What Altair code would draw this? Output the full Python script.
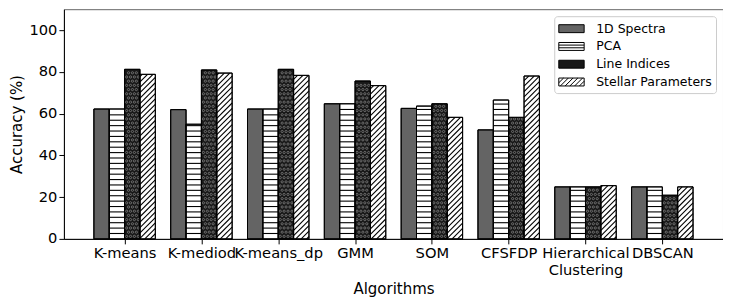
import json
import math
import altair as alt
import pandas as pd

# ---- data ----
algorithms = ["K-means", "K-mediod", "K-means_dp", "GMM", "SOM", "CFSFDP",
              "Hierarchical Clustering", "DBSCAN"]
series = ["1D Spectra", "PCA", "Line Indices", "Stellar Parameters"]
spectra = [62.2, 61.9, 62.2, 64.7, 62.5, 52.2, 24.9, 24.9]
pca = [62.2, 54.9, 62.2, 64.7, 63.6, 66.5, 24.9, 24.9]
line_indices = [81.2, 80.9, 81.2, 75.6, 64.7, 58.2, 24.9, 20.9]
stellar = [78.8, 79.4, 78.3, 73.4, 58.2, 78.0, 25.5, 24.9]
y_ticks = [0, 20, 40, 60, 80, 100]

values_by_series = [spectra, pca, line_indices, stellar]
fills = ["#646464", "#ffffff", "#181818", "#ffffff"]

W, H = 660, 230
XMIN, XMAX = -0.79, 7.79
YMAX = 110
BAR = 0.2
offsets = [-0.3, -0.1, 0.1, 0.3]
FONT = "DejaVu Sans"

rows = []
for j, s in enumerate(series):
    for i, a in enumerate(algorithms):
        c = i + offsets[j]
        rows.append(dict(series=s, alg=a, x0=c - BAR / 2, x1=c + BAR / 2,
                         value=values_by_series[j][i]))
bars = pd.DataFrame(rows)

# ---- hatch decoration derived from the bar values ----
sx = W / (XMAX - XMIN)
sy = H / YMAX
SP = 5.4
hatch = []
for i, v in enumerate(pca):
    x0 = i + offsets[1] - BAR / 2
    x1 = x0 + BAR
    k = 1
    while k * SP / sy < v - 0.5:
        y = k * SP / sy
        hatch.append(dict(x=x0, x2=x1, y=y, y2=y))
        k += 1
for i, v in enumerate(stellar):
    x0 = i + offsets[3] - BAR / 2
    x1 = x0 + BAR
    X0 = (x0 - XMIN) * sx
    X1 = (x1 - XMIN) * sx
    Ht = v * sy
    for m in range(math.floor((X0 - Ht) / SP) - 1, math.ceil(X1 / SP) + 2):
        k = m * SP
        a = max(X0, k)
        b = min(X1, k + Ht)
        if b - a > 0.3:
            hatch.append(dict(x=a / sx + XMIN, x2=b / sx + XMIN,
                              y=(a - k) / sy, y2=(b - k) / sy))
hatch_df = pd.DataFrame(hatch)

# dotted texture for the Line Indices bars
DX, DY = 3.9, 4.2
dots = []
for i, v in enumerate(line_indices):
    x0 = i + offsets[2] - BAR / 2
    X0 = (x0 - XMIN) * sx
    Ht = v * sy
    r = 0
    while (r + 0.6) * DY < Ht - 1.5:
        shift = 0 if r % 2 == 0 else DX / 2
        cx = 2.0 + shift
        while cx < BAR * sx - 1.5:
            dots.append(dict(x=(X0 + cx) / sx + XMIN, y=(r + 0.6) * DY / sy))
            cx += DX
        r += 1
dots_df = pd.DataFrame(dots)

# ---- legend symbol paths ----
def f(v):
    return f"{v:.3f}"

rect = "M-1,-0.5H2.2V0.5H-1Z"
pca_path = rect + " M-1,-0.17H2.2 M-1,0.17H2.2"
diag = ""
a = -2.0
while a < 2.2:
    xa, ya = a, 0.5
    xb, yb = a + 1, -0.5
    if xa < -1:
        ya = 0.5 - (-1 - xa)
        xa = -1
    if xb > 2.2:
        yb = -0.5 + (xb - 2.2)
        xb = 2.2
    if xb - xa > 0.05:
        diag += f" M{f(xa)},{f(ya)}L{f(xb)},{f(yb)}"
    a += 0.6
shapes = [rect, pca_path, rect, rect + diag]

x_scale = alt.Scale(domain=[XMIN, XMAX], nice=False, zero=False)
y_scale = alt.Scale(domain=[0, YMAX], nice=False)
fill_scale = alt.Scale(domain=series, range=fills)
shape_scale = alt.Scale(domain=series, range=shapes)
stroke_scale = alt.Scale(domain=series, range=["black"] * 4)

# tick labels (multi-line for the long name); small nudges as in the reference
NB = "\u00a0"
label_lines = [a.split(" ") for a in algorithms]
label_lines[2] = [NB * 3 + algorithms[2]]
label_lines[3] = [algorithms[3] + NB]
label_arr = json.dumps(label_lines, ensure_ascii=False).replace('"', "'")

base = alt.Chart(bars)

legend_layer = base.transform_filter("false").mark_point(
    filled=True, strokeWidth=1, opacity=1
).encode(
    x=alt.X("x0:Q", scale=x_scale,
            axis=alt.Axis(values=list(range(len(algorithms))),
                          labelExpr=f"{label_arr}[datum.value]",
                          title="Algorithms", grid=False,
                          labelOverlap=False, labelFlush=False)),
    y=alt.Y("value:Q", scale=y_scale,
            axis=alt.Axis(values=y_ticks, title="Accuracy (%)", grid=False)),
    fill=alt.Fill("series:N", scale=fill_scale, legend=alt.Legend(title=None)),
    shape=alt.Shape("series:N", scale=shape_scale, legend=alt.Legend(title=None)),
    stroke=alt.Stroke("series:N", scale=stroke_scale, legend=alt.Legend(title=None)),
)

bar_layer = base.mark_rect(stroke="black", strokeWidth=1).encode(
    x=alt.X("x0:Q", scale=x_scale),
    x2="x1:Q",
    y=alt.Y("value:Q", scale=y_scale),
    y2=alt.datum(0),
    fill=alt.Fill("series:N", scale=fill_scale),
)

hatch_layer = alt.Chart(hatch_df).mark_rule(color="black", strokeWidth=1.1).encode(
    x=alt.X("x:Q", scale=x_scale),
    x2="x2:Q",
    y=alt.Y("y:Q", scale=y_scale),
    y2="y2:Q",
)

dots_layer = alt.Chart(dots_df).mark_point(
    shape="circle", size=5, filled=False, color="#8a8a8a", strokeWidth=0.7, opacity=1
).encode(
    x=alt.X("x:Q", scale=x_scale),
    y=alt.Y("y:Q", scale=y_scale),
)

outline_layer = base.mark_rect(fillOpacity=0, stroke="black", strokeWidth=1).encode(
    x=alt.X("x0:Q", scale=x_scale), x2="x1:Q",
    y=alt.Y("value:Q", scale=y_scale), y2=alt.datum(0),
)

chart = alt.layer(legend_layer, bar_layer, hatch_layer, dots_layer,
                  outline_layer).properties(
    width=W, height=H,
    padding={"left": 1, "top": 1, "right": 0, "bottom": 0},
).configure_view(
    stroke="#666", strokeWidth=1
).configure_axis(
    labelFont=FONT, titleFont=FONT, labelFontSize=14.7, titleFontSize=15,
    labelColor="black", titleColor="black", titleFontWeight="normal",
    domainColor="black", tickColor="black", tickSize=5, labelPadding=2,
).configure_legend(
    orient="top-right", offset=7, padding=4, rowPadding=2.8,
    labelFont=FONT, labelFontSize=12.5, labelColor="black", labelOffset=21,
    symbolSize=252, symbolStrokeColor="black", symbolStrokeWidth=1,
    symbolOpacity=1,
    strokeColor="#cccccc", fillColor="rgba(255,255,255,0.85)", cornerRadius=3,
)

chart.save("out.html", embed_options={"renderer": "svg", "actions": False})
